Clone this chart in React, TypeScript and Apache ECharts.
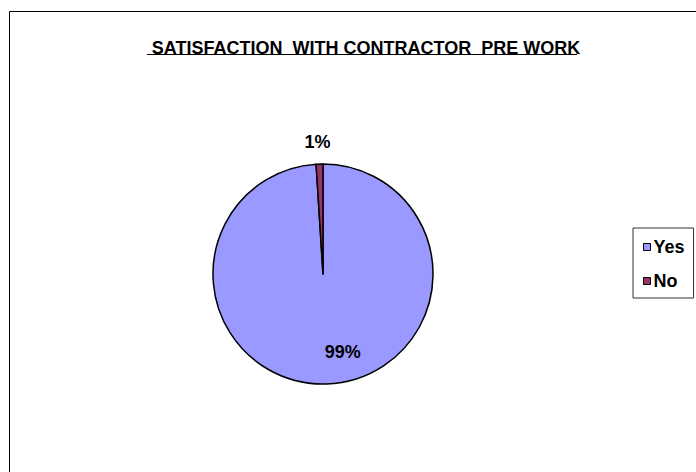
import React, { useEffect, useRef } from "react";
import * as echarts from "echarts";

const titleText = "SATISFACTION  WITH CONTRACTOR  PRE WORK";
const categories = ["Yes", "No"];
const values = [99, 1];
const colors = ["#9999FF", "#993366"];

export default function App() {
  const ref = useRef<HTMLDivElement>(null);
  useEffect(() => {
    document.body.style.margin = "0";
    const chart = echarts.init(ref.current!, null, { renderer: "svg" });
    const font = "'Liberation Sans', Arial, sans-serif";
    chart.setOption({
      animation: false,
      backgroundColor: "#ffffff",
      title: {
        text: titleText,
        left: 361,
        top: 34,
        textAlign: "center",
        textStyle: { fontFamily: font, fontSize: 18, fontWeight: "bold", color: "#000" },
      },
      graphic: [
        {
          type: "rect",
          shape: { x: 9.5, y: 11.5, width: 720, height: 480 },
          style: { fill: "none", stroke: "#000", lineWidth: 1 },
          silent: true,
        },
        {
          type: "line",
          shape: { x1: 147, y1: 54.5, x2: 577, y2: 54.5 },
          style: { stroke: "#000", lineWidth: 1 },
          silent: true,
        },
      ],
      legend: {
        orient: "vertical",
        left: 633,
        top: 228,
        data: categories,
        borderColor: "#333",
        borderWidth: 1,
        padding: [10, 9, 8, 10],
        itemWidth: 7,
        itemHeight: 7,
        itemGap: 16,
        icon: "rect",
        itemStyle: { borderColor: "#000", borderWidth: 1 },
        textStyle: { fontFamily: font, fontSize: 18, fontWeight: "bold", color: "#000", padding: [0, 0, 0, -2] },
      },
      series: [
        {
          type: "pie",
          center: [323, 274],
          radius: 110,
          startAngle: 90,
          clockwise: true,
          data: categories.map((c, i) => ({
            name: c,
            value: values[i],
            itemStyle: { color: colors[i] },
            label: i === 0 ? { position: "inside" } : { position: "outside" },
          })),
          itemStyle: { borderColor: "#000", borderWidth: 1.5 },
          label: {
            formatter: "{d}%",
            fontFamily: font,
            fontSize: 18,
            fontWeight: "bold",
            color: "#000",
          },
          labelLayout: (p: any) =>
            p.dataIndex === 0 ? { dx: 18, dy: 20 } : { dx: 16, dy: -18 },
          labelLine: { show: false, length: 4, length2: 0 },
          emphasis: { disabled: true },
        },
      ],
    });
    return () => chart.dispose();
  }, []);
  return <div ref={ref} style={{ width: 696, height: 472 }} />;
}
